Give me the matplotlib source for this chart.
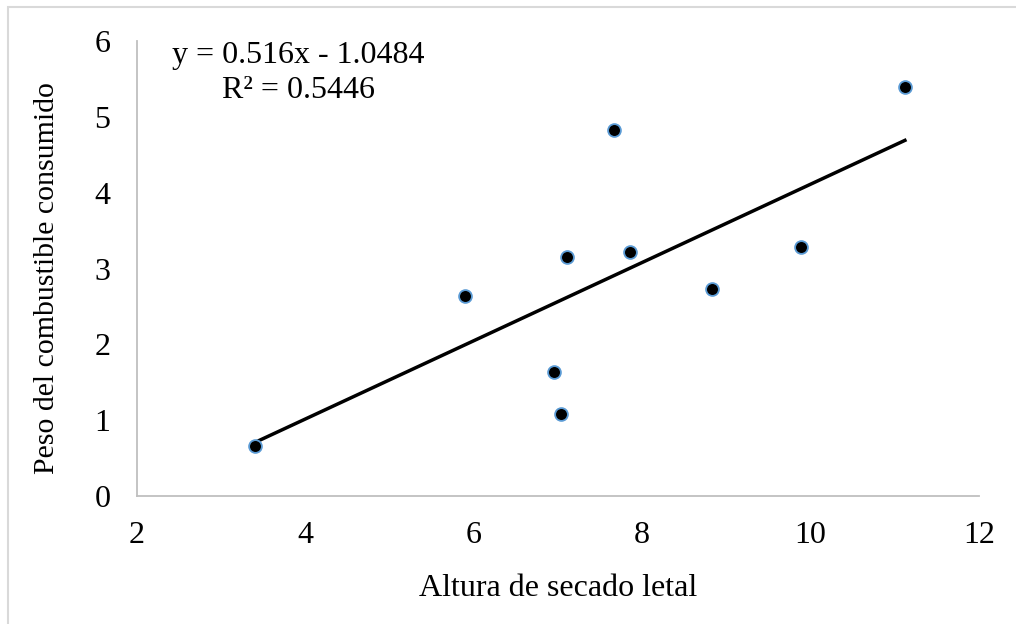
import matplotlib
matplotlib.use("Agg")
import matplotlib.pyplot as plt
from matplotlib.patches import Rectangle
import numpy as np

altura = [3.40, 5.90, 6.95, 7.04, 7.11, 7.67, 7.86, 8.83, 9.89, 11.12]
peso = [0.66, 2.64, 1.64, 1.08, 3.15, 4.83, 3.22, 2.73, 3.28, 5.40]
slope = 0.516
intercept = -1.0484
eq_text = "y = 0.516x - 1.0484"
r2_text = "R² = 0.5446"
xticks = [2, 4, 6, 8, 10, 12]
yticks = [0, 1, 2, 3, 4, 5, 6]

plt.rcParams['font.family'] = ['Liberation Serif', 'DejaVu Serif']
FS = 23

W, H = 1016, 624
fig = plt.figure(figsize=(W / 100, H / 100), dpi=100)
ax = fig.add_axes([137 / W, 1 - 496 / H, (979 - 137) / W, (496 - 41) / H])

# outer chart border
fig.patches.append(Rectangle((8 / W, -0.05), 1.1, 1 - 7 / H + 0.05,
                             transform=fig.transFigure, fill=False,
                             edgecolor='#D9D9D9', linewidth=1.5, zorder=0))

xs = np.array([min(altura), max(altura)])
ax.plot(xs, slope * xs + intercept, color='black', linewidth=2.5, zorder=2)
ax.scatter(altura, peso, s=85, color='black', edgecolors='#5B9BD5',
           linewidths=1.3, zorder=3)

ax.set_xlim(2, 12)
ax.set_ylim(0, 6)
ax.set_xticks(xticks)
ax.set_yticks(yticks)
for s in ['top', 'right']:
    ax.spines[s].set_visible(False)
for s in ['left', 'bottom']:
    ax.spines[s].set_color('#BFBFBF')
    ax.spines[s].set_linewidth(1.3)
ax.tick_params(length=0, labelsize=FS, colors='black')
ax.tick_params(axis='y', pad=19)
ax.tick_params(axis='x', pad=18)

fig.text(558 / W, 1 - 589 / H, "Altura de secado letal", fontsize=FS,
         ha='center', va='center')
fig.text(47 / W, 1 - 278 / H, "Peso del combustible consumido", fontsize=21.5,
         ha='center', va='center', rotation=90)

fig.text(172 / W, 1 - 56 / H, eq_text, fontsize=FS, va='center', ha='left')
fig.text(222 / W, 1 - 91 / H, r2_text, fontsize=FS, va='center', ha='left')

fig.savefig("out.png", dpi=100)
